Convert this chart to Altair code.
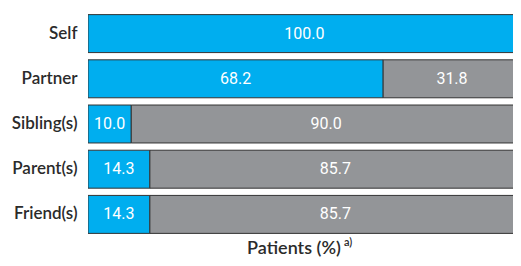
import altair as alt
import pandas as pd

categories = ["Self", "Partner", "Sibling(s)", "Parent(s)", "Friend(s)"]
blue_values = [100.0, 68.2, 10.0, 14.3, 14.3]
gray_values = [0.0, 31.8, 90.0, 85.7, 85.7]

rows = []
for c, b, g in zip(categories, blue_values, gray_values):
    rows.append({"cat": c, "grp": "A", "ord": 0, "val": b})
    if g > 0:
        rows.append({"cat": c, "grp": "B", "ord": 1, "val": g})
df = pd.DataFrame(rows)

LFONT = "Lato"
NFONT = "Roboto"

base = alt.Chart(df).transform_stack(
    stack="val", groupby=["cat"], as_=["x0", "x1"], sort=[alt.SortField("ord")]
).transform_calculate(
    mid="(datum.x0 + datum.x1) / 2",
    lab="format(datum.val, '.1f')"
)

y = alt.Y("cat:N", sort=categories, title=None,
          scale=alt.Scale(paddingInner=0.16, paddingOuter=0.08),
          axis=alt.Axis(domain=False, ticks=False, labelFont=LFONT, labelFontSize=17,
                        labelFontWeight=600, labelColor="#2b2b2b", labelPadding=11))
xs = alt.Scale(domain=[0, 98.2], nice=False, zero=True)

bars = base.mark_bar(stroke="#333333", strokeWidth=1, clip=True).encode(
    x=alt.X("x0:Q", scale=xs, axis=None),
    x2="x1:Q",
    y=y,
    color=alt.Color("grp:N", scale=alt.Scale(domain=["A", "B"], range=["#00AEEF", "#939598"]), legend=None),
)

texts = base.mark_text(color="white", font=NFONT, fontSize=16, baseline="middle").encode(
    x=alt.X("mid:Q", scale=xs, axis=None),
    y=y,
    text="lab:N",
)

title = alt.Chart(pd.DataFrame({"t": ["Patients (%)"]})).mark_text(
    font=LFONT, fontSize=18, fontWeight=600, color="#2b2b2b", baseline="middle", align="center").encode(
    x=alt.value(206), y=alt.value(238), text="t:N")
sup = alt.Chart(pd.DataFrame({"t": ["a)"]})).mark_text(
    font=LFONT, fontSize=11, fontWeight=600, color="#2b2b2b", baseline="middle", align="left").encode(
    x=alt.value(256), y=alt.value(232), text="t:N")

chart = alt.layer(bars, texts, title, sup).properties(
    width=425, height=226,
    autosize=alt.AutoSizeParams(type="none"),
    padding={"left": 80, "top": 3, "right": 0, "bottom": 21},
).configure_view(stroke=None)

chart.save("out.html", embed_options={"renderer": "svg", "actions": False})
